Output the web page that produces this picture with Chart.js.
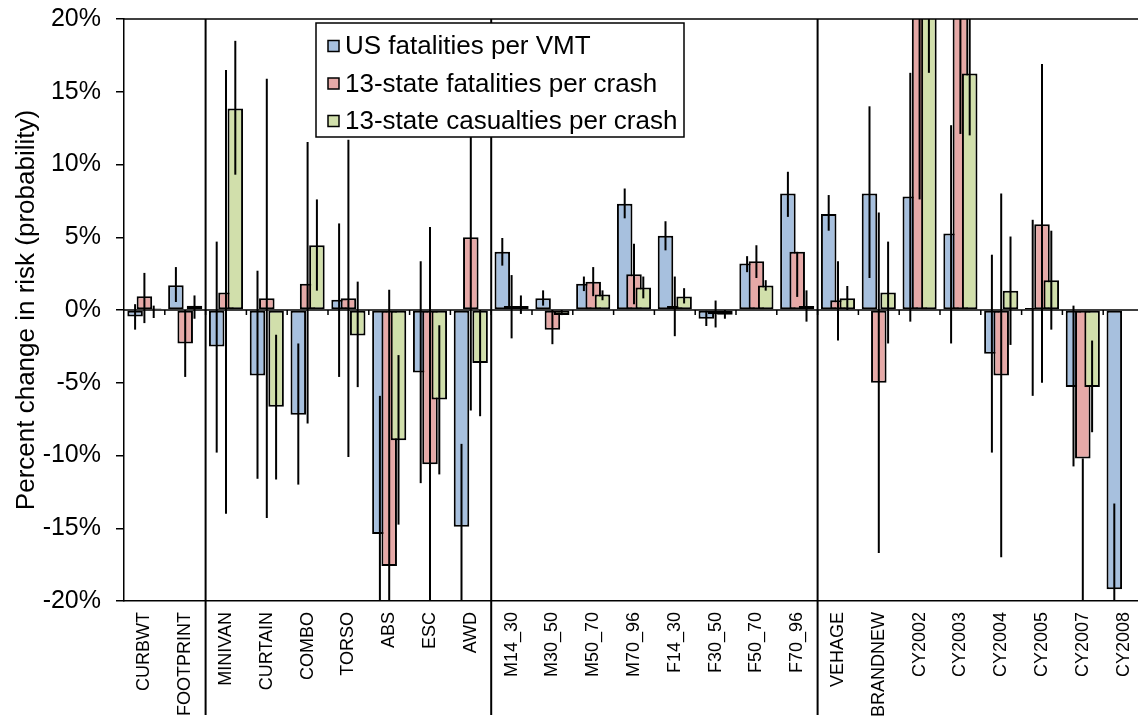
<!DOCTYPE html>
<html>
<head>
<meta charset="utf-8">
<script src="https://cdn.jsdelivr.net/npm/chart.js@4/dist/chart.umd.min.js"></script>
<style>
  html, body { margin: 0; padding: 0; background: #fff; overflow: hidden; }
  #clip { width: 1138px; height: 719px; overflow: hidden; }
  /* plot area in the original runs slightly past the right edge of the picture */
  #wrap { width: 1146px; height: 719px; position: relative; }
</style>
</head>
<body>
<div id="clip"><div id="wrap"><canvas id="chart"></canvas></div></div>
<script>
// categories, in the order they appear on the x axis
const categories = ['CURBWT', 'FOOTPRINT', 'MINIVAN', 'CURTAIN', 'COMBO', 'TORSO', 'ABS', 'ESC', 'AWD',
  'M14_30', 'M30_50', 'M50_70', 'M70_96', 'F14_30', 'F30_50', 'F50_70', 'F70_96',
  'VEHAGE', 'BRANDNEW', 'CY2002', 'CY2003', 'CY2004', 'CY2005', 'CY2007', 'CY2008'];

// group separators: a vertical rule is drawn after these many categories
const groupBreaks = [2, 9, 17];

const seriesNames = ['US fatalities per VMT', '13-state fatalities per crash', '13-state casualties per crash'];

// percent change (point estimate) per series
const usVmt = [-0.45, 1.7, -2.5, -4.5, -7.2, 0.7, -15.4, -4.3, -14.9, 4.0, 0.8, 1.8, 7.3, 5.1, -0.6, 3.2, 8.0,
  6.6, 8.0, 7.8, 5.25, -3.0, 0.13, -5.3, -19.2];
const stateFat = [0.95, -2.3, 1.2, 0.8, 1.8, 0.8, -17.6, -10.6, 5.0, 0.27, -1.35, 1.95, 2.45, 0.27, -0.3, 3.35, 4.0,
  0.67, -5.0, 24, 24, -4.5, 5.9, -10.2, null];
const stateCas = [0.1, 0.3, 13.85, -6.65, 4.45, -1.75, -8.95, -6.15, -3.65, 0.27, -0.35, 1.07, 1.55, 0.93, -0.32, 1.68, 0.27,
  0.8, 1.2, 22, 16.25, 1.33, 2.05, -5.3, null];

// error bar ends (low / high)
const usVmtLo = [-1.35, 0.55, -9.8, -11.6, -12.0, -4.6, -22, -11.9, -22, 3.05, 0.3, 1.3, 6.3, 4.1, -1.1, 2.6, 6.4,
  5.45, 2.2, -0.8, -2.3, -9.8, -5.9, -10.75, -22];
const usVmtHi = [0.4, 2.95, 4.7, 2.7, -2.3, 5.95, -5.9, 3.35, -9.2, 4.95, 1.35, 2.3, 8.35, 6.1, -0.05, 3.7, 9.5,
  7.9, 14.0, 16.3, 12.7, 3.8, 6.2, 0.3, -13.3];
const stateFatLo = [-0.9, -4.6, -14.0, -14.3, -7.8, -10.1, -22, -22, -6.9, -1.95, -2.35, 0.95, 0.4, -1.8, -1.2, 2.2, 0.9,
  -2.1, -16.7, 7.6, 12.1, -17.0, -5.0, -22, null];
const stateFatHi = [2.55, 0, 16.5, 15.9, 11.55, 11.7, 1.4, 5.7, 12.5, 2.4, 0, 2.95, 4.55, 2.3, 0.65, 4.45, 4.0,
  3.35, 6.7, 25, 25, 8.0, 16.9, -10.2, null];
const stateCasLo = [-0.55, -0.6, 9.3, -11.65, 1.33, -5.3, -14.75, -11.3, -7.3, -0.27, -0.35, 0.67, 0.8, 0.45, -0.6, 1.33, -0.8,
  0, -2.3, 16.3, 12.0, -2.4, -1.35, -8.4, null];
const stateCasHi = [0.3, 1.0, 18.5, -1.7, 7.6, 1.95, -3.1, -1.05, 0, 1.0, 0, 1.35, 2.3, 1.5, 0, 2.05, 1.35,
  1.65, 4.7, 25, 25, 5.05, 5.45, -2.1, null];

const yTicks = [-20, -15, -10, -5, 0, 5, 10, 15, 20];

const colors = ['#a7c0de', '#e6a9a7', '#d1dfab'];
const errLo = [usVmtLo, stateFatLo, stateCasLo];
const errHi = [usVmtHi, stateFatHi, stateCasHi];

Chart.defaults.font.family = "'Liberation Sans', Arial, sans-serif";
Chart.defaults.color = '#000';

// bars overlap, so draw them first-to-last (later series on top), then the error bars
const barsAndErrors = {
  id: 'barsAndErrors',
  beforeDatasetsDraw(chart) {
    const { ctx, chartArea: a } = chart;
    const y = chart.scales.y;
    ctx.save();
    ctx.beginPath();
    ctx.rect(a.left, a.top, a.right - a.left, a.bottom - a.top);
    ctx.clip();
    const metas = chart.getSortedVisibleDatasetMetas();
    metas.forEach(m => m.controller.draw());

    // zero line with small ticks at category boundaries
    const y0 = y.getPixelForValue(0);
    ctx.strokeStyle = '#000';
    ctx.lineWidth = 1.5;
    ctx.beginPath();
    ctx.moveTo(a.left, y0);
    ctx.lineTo(a.right, y0);
    const step = (a.right - a.left) / categories.length;
    for (let i = 1; i < categories.length; i++) {
      const x = a.left + i * step;
      ctx.moveTo(x, y0);
      ctx.lineTo(x, y0 + 5);
    }
    ctx.stroke();

    ctx.lineWidth = 2;
    metas.forEach(m => {
      const lo = errLo[m.index], hi = errHi[m.index];
      m.data.forEach((bar, j) => {
        if (lo[j] == null || hi[j] == null) return;
        ctx.beginPath();
        ctx.moveTo(bar.x, y.getPixelForValue(lo[j]));
        ctx.lineTo(bar.x, y.getPixelForValue(hi[j]));
        ctx.stroke();
      });
    });
    ctx.restore();
    return false;
  },
  afterDraw(chart) {
    const { ctx, chartArea: a } = chart;
    ctx.save();
    ctx.strokeStyle = '#000';
    ctx.lineWidth = 1.5;
    // top frame
    ctx.beginPath();
    ctx.moveTo(a.left, a.top);
    ctx.lineTo(chart.width, a.top);
    ctx.stroke();
    // group separators run through the label area
    const step = (a.right - a.left) / categories.length;
    ctx.lineWidth = 2;
    groupBreaks.forEach(n => {
      const x = a.left + n * step;
      ctx.beginPath();
      ctx.moveTo(x, a.top);
      ctx.lineTo(x, chart.height - 4);
      ctx.stroke();
    });

    // legend box
    const lx = a.left + 192, ly = a.top + 4, lw = 368, lh = 114;
    ctx.fillStyle = '#fff';
    ctx.fillRect(lx, ly, lw, lh);
    ctx.lineWidth = 1.5;
    ctx.strokeRect(lx, ly, lw, lh);
    ctx.font = "26px 'Liberation Sans', Arial, sans-serif";
    ctx.textBaseline = 'middle';
    seriesNames.forEach((name, i) => {
      const cy = ly + 23 + i * 37.5;
      ctx.fillStyle = colors[i];
      ctx.fillRect(lx + 12, cy - 5.5, 11, 11);
      ctx.lineWidth = 1.5;
      ctx.strokeRect(lx + 12, cy - 5.5, 11, 11);
      ctx.fillStyle = '#000';
      ctx.fillText(name, lx + 29, cy + 1);
    });
    ctx.restore();
  }
};

const datasets = [usVmt, stateFat, stateCas].map((vals, i) => ({
  label: seriesNames[i],
  data: vals,
  backgroundColor: colors[i],
  borderColor: '#000',
  borderWidth: 2,
  borderSkipped: false,
  categoryPercentage: 0.684,
  barPercentage: 1.67
}));

new Chart(document.getElementById('chart'), {
  type: 'bar',
  data: { labels: categories, datasets: datasets },
  options: {
    responsive: true,
    maintainAspectRatio: false,
    animation: false,
    events: [],
    layout: { padding: { top: 19, right: 2, left: 0, bottom: 0 } },
    plugins: { legend: { display: false }, tooltip: { enabled: false } },
    scales: {
      x: {
        grid: { display: false, drawTicks: false },
        border: { display: true, color: '#000', width: 1.5 },
        ticks: {
          font: { size: 18 },
          color: '#000',
          minRotation: 90,
          maxRotation: 90,
          autoSkip: false,
          padding: 11
        },
        afterFit(scale) {
          scale.height = 118;
          scale.paddingLeft = 0;
          scale.paddingRight = 0;
        }
      },
      y: {
        min: -20,
        max: 20,
        afterBuildTicks(scale) { scale.ticks = yTicks.map(v => ({ value: v })); },
        grid: { drawOnChartArea: false, drawTicks: true, tickLength: 8, color: '#000', lineWidth: 1.5 },
        border: { display: true, color: '#000', width: 1.5 },
        ticks: {
          font: { size: 25 },
          color: '#000',
          padding: 15,
          callback: v => v + '%'
        },
        title: {
          display: true,
          text: 'Percent change in risk (probability)',
          font: { size: 26 },
          color: '#000',
          padding: { top: 11, bottom: 0 }
        },
        afterFit(scale) {
          scale.width = 124;
          scale.paddingTop = 0;
          scale.paddingBottom = 0;
        }
      }
    }
  },
  plugins: [barsAndErrors]
});
</script>
</body>
</html>
